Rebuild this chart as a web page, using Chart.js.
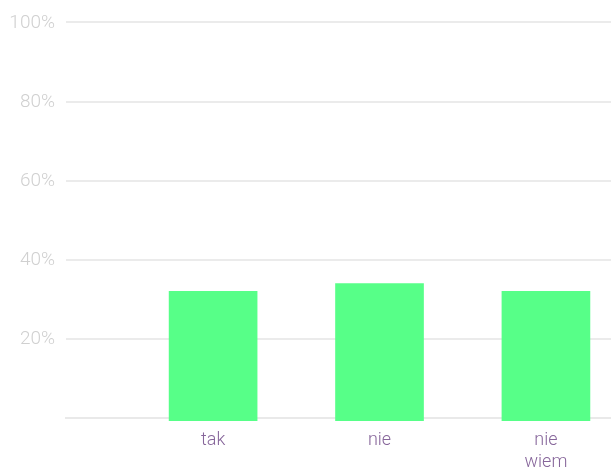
<!DOCTYPE html>
<html>
<head>
<meta charset="utf-8">
<script src="https://cdn.jsdelivr.net/npm/chart.js@4/dist/chart.umd.min.js"></script>
<style>
  html, body { margin: 0; padding: 0; background: #ffffff; }
  #wrap { width: 611px; height: 467px; position: relative; }
</style>
</head>
<body>
<div id="wrap"><canvas id="c" width="611" height="467"></canvas></div>
<script>
const categories = ['tak', 'nie', ['nie', 'wiem']];
const positions = [1, 2, 3];
const values = [32, 34, 32];
const yTicks = [0, 20, 40, 60, 80, 100];

const ctx = document.getElementById('c').getContext('2d');
new Chart(ctx, {
  type: 'bar',
  data: {
    datasets: [{
      data: positions.map((p, i) => ({ x: p, y: values[i] })),
      backgroundColor: 'rgb(87,255,136)',
      borderWidth: 0,
      barThickness: 88,
      base: -0.7,
      clip: false
    }]
  },
  options: {
    responsive: false,
    animation: false,
    layout: { padding: { left: 0, right: 0, top: 13, bottom: 0 } },
    plugins: { legend: { display: false }, tooltip: { enabled: false } },
    scales: {
      x: {
        type: 'linear',
        offset: false,
        min: 0.116,
        max: 3.391,
        z: 1,
        afterBuildTicks: (axis) => { axis.ticks = positions.map(v => ({ value: v })); },
        afterFit: (axis) => { axis.height = 49; },
        grid: { display: false, drawTicks: false },
        border: { display: true, color: '#e9e9e9', width: 2 },
        ticks: {
          autoSkip: false,
          maxRotation: 0,
          padding: 11,
          color: '#86659a',
          font: { family: "'Roboto Light', Roboto", weight: 300, size: 18, lineHeight: 1.2 },
          callback: (v) => { const i = positions.indexOf(v); return i >= 0 ? categories[i] : null; }
        }
      },
      y: {
        min: 0,
        max: 100,
        afterBuildTicks: (axis) => { axis.ticks = yTicks.map(v => ({ value: v })); },
        afterFit: (axis) => { axis.width = 66; },
        grid: { color: '#ebebeb', lineWidth: 2, drawTicks: false },
        border: { display: false },
        ticks: {
          padding: 11,
          color: '#d0d0d0',
          font: { family: "'Roboto Light', Roboto", weight: 300, size: 19 },
          callback: (v) => v === 0 ? '' : v + '%'
        }
      }
    }
  }
});
</script>
</body>
</html>
